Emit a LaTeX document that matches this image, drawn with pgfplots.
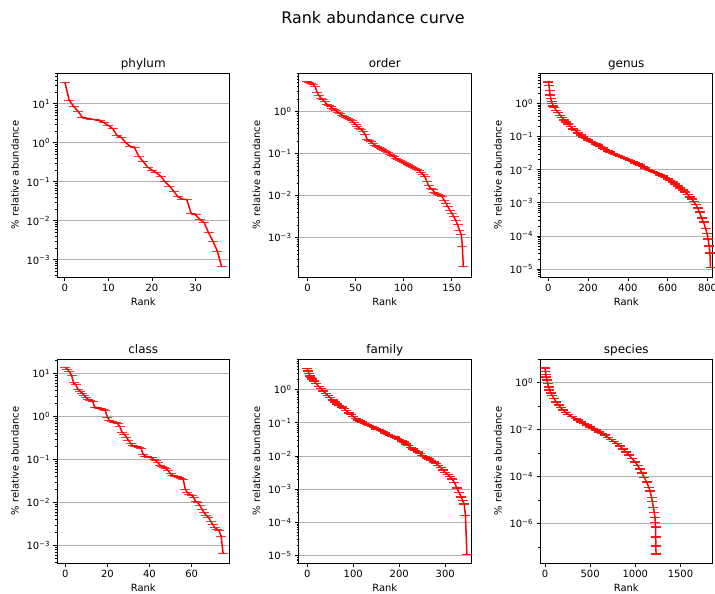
\documentclass[border=0pt]{standalone}
\usepackage{fontspec}
\setmainfont{DejaVu Sans}
\usepackage{pgfplots}
\pgfplotsset{compat=1.18}

\newcommand\tn[1]{10\textsuperscript{#1}}

\pgfplotsset{
  logminor/.style={minor ytick={2e-6,3e-6,4e-6,5e-6,6e-6,7e-6,8e-6,9e-6,
    2e-5,3e-5,4e-5,5e-5,6e-5,7e-5,8e-5,9e-5,
    2e-4,3e-4,4e-4,5e-4,6e-4,7e-4,8e-4,9e-4,
    2e-3,3e-3,4e-3,5e-3,6e-3,7e-3,8e-3,9e-3,
    2e-2,3e-2,4e-2,5e-2,6e-2,7e-2,8e-2,9e-2,
    0.2,0.3,0.4,0.5,0.6,0.7,0.8,0.9,2,3,4,5,6,7,8,9,20,30,40,50,60}},
  rac/.style={
    scale only axis, width=172.5bp, height=204bp, anchor=north west,
    ymajorgrids, major grid style={draw=black!31, line width=0.8bp},
    tick align=outside, tick pos=left,
    major tick length=3.5bp, minor tick length=2bp,
    tick style={black, line width=0.8bp},
    minor tick style={black, line width=0.6bp},
    axis line style={line width=0.8bp},
    tick label style={font=\fontsize{10}{12}\selectfont},
    xlabel={Rank}, ylabel={\% relative abundance},
    every axis x label/.style={at={(axis description cs:0.5,-0.1373)}, anchor=base,
      font=\fontsize{10}{12}\selectfont},
    every axis y label/.style={at={(axis description cs:-0.2435,0.5)}, rotate=90,
      anchor=center, font=\fontsize{10}{12}\selectfont},
    every axis title/.style={at={(axis description cs:0.5,1.0294)}, anchor=base,
      font=\fontsize{12}{14}\selectfont},
  },
  % line with a horizontal cap at every point, like the error-bar caps
  curve/.style={red, line width=1.5bp, mark=-, mark size=5bp,
    mark options={solid, draw=red, color=red, line width=0.9bp, opacity=0.8}},
  dense/.style={curve,
    mark options={solid, draw=red, color=red, line width=1.5bp, opacity=0.9}},
}

\begin{document}
\begin{tikzpicture}
\useasboundingbox (0,0) rectangle (715bp,-594bp);
\node[font=\fontsize{16}{19}\selectfont, anchor=base] at (373bp,-23bp) {Rank abundance curve};

% ---- phylum ----
\begin{axis}[rac, ymode=log, at={(57bp,-73bp)}, title={phylum},
  xmin=-1.8, xmax=37.8, ymin=3.6e-4, ymax=62,
  xtick={0,10,20,30}, xticklabels={0,10,20,30},
  ytick={1e-3,1e-2,1e-1,1,10}, yticklabels={\tn{−3},\tn{−2},\tn{−1},\tn{0},\tn{1}},
  logminor]
\addplot[curve] coordinates {
 (0,36) (1,12.4) (2,8.7) (3,6.5) (4,4.5) (5,4.3) (6,4.1) (7,3.9) (8,3.7)
 (9,3.3) (10,2.8) (11,2.3) (12,1.54) (13,1.37) (14,1.0) (15,0.82) (16,0.74)
 (17,0.45) (18,0.33) (19,0.24) (20,0.20) (21,0.17) (22,0.14) (23,0.10)
 (24,0.078) (25,0.057) (26,0.041) (27,0.036) (28,0.035) (29,0.0155)
 (30,0.0143) (31,0.0108) (32,0.0089) (33,0.0049) (34,0.0030) (35,0.00167)
 (36,0.00066)};
\end{axis}

% ---- order ----
\begin{axis}[rac, ymode=log, at={(298.5bp,-73bp)}, title={order},
  xmin=-9.3, xmax=170, ymin=1.14e-4, ymax=8.3,
  xtick={0,50,100,150}, xticklabels={0,50,100,150},
  ytick={1e-3,1e-2,1e-1,1}, yticklabels={\tn{−3},\tn{−2},\tn{−1},\tn{0}},
  logminor]
\addplot[curve] coordinates {
 (0,5.2) (2,5.0) (4,4.8) (6,4.4) (8,3.9) (10,2.9) (12,2.4) (14,2.1) (16,1.9)
 (18,1.7) (20,1.5) (22,1.4) (24,1.3) (26,1.2) (28,1.12) (30,1.05) (32,0.95)
 (34,0.88) (36,0.82) (38,0.77) (40,0.72) (42,0.68) (44,0.64) (46,0.60)
 (48,0.55) (50,0.50) (52,0.45) (54,0.40) (56,0.37) (58,0.33) (60,0.29)
 (62,0.22) (64,0.20) (66,0.19) (68,0.175) (70,0.16) (72,0.15) (74,0.142)
 (76,0.133) (78,0.125) (80,0.118) (82,0.11) (84,0.104) (86,0.097) (88,0.09)
 (90,0.083) (92,0.078) (94,0.073) (96,0.068) (98,0.064) (100,0.060)
 (102,0.057) (104,0.054) (106,0.051) (108,0.049) (110,0.047) (112,0.045)
 (114,0.042) (116,0.039) (118,0.035) (120,0.032) (122,0.028) (124,0.022)
 (126,0.017) (128,0.015) (130,0.0137) (132,0.012) (134,0.0112) (136,0.0105)
 (138,0.0099) (140,0.0093) (142,0.0078) (144,0.0065) (146,0.0054)
 (148,0.0045) (150,0.0038) (152,0.0031) (154,0.0026) (156,0.0020)
 (158,0.0015) (160,0.00115) (161,0.0006) (162,0.0002)};
\end{axis}

% ---- genus ----
\begin{axis}[rac, ymode=log, at={(540bp,-73bp)}, title={genus},
  xmin=-42, xmax=825, ymin=5.75e-6, ymax=8.3,
  xtick={0,200,400,600,800}, xticklabels={0,200,400,600,800},
  ytick={1e-5,1e-4,1e-3,1e-2,1e-1,1},
  yticklabels={\tn{−5},\tn{−4},\tn{−3},\tn{−2},\tn{−1},\tn{0}},
  logminor]
\addplot[dense] coordinates {
 (0,4.5) (3,3.5) (6,2.5) (9,1.8) (12,1.4) (16,1.15) (20,1.0) (25,0.85)
 (30,0.75) (40,0.62) (50,0.53) (60,0.44) (70,0.37) (80,0.32) (90,0.28)
 (100,0.24) (112,0.2) (125,0.17) (137,0.15) (150,0.13) (162,0.11)
 (175,0.097) (187,0.087) (200,0.079) (212,0.072) (225,0.066) (237,0.06)
 (250,0.055) (262,0.05) (275,0.045) (287,0.041) (300,0.037) (312,0.034)
 (325,0.031) (337,0.029) (350,0.027) (362,0.025) (375,0.023) (387,0.0215)
 (400,0.020) (412,0.0187) (425,0.0174) (437,0.016) (450,0.015)
 (462,0.0138) (475,0.0125) (487,0.0113) (500,0.0102) (512,0.0095)
 (525,0.0088) (537,0.0082) (550,0.0076) (562,0.007) (575,0.0064)
 (587,0.0058) (600,0.0053) (612,0.0047) (625,0.0042) (637,0.0037)
 (650,0.0032) (662,0.0028) (675,0.0024) (687,0.0021) (700,0.0018)
 (710,0.0015) (720,0.0013) (730,0.0011) (740,0.0009) (750,0.0007)
 (760,0.00052) (770,0.00035) (780,0.00026) (790,0.00017) (797,0.00012)
 (803,0.00008) (808,0.00005) (812,0.00003) (815,0.000011)};
\end{axis}

% ---- class ----
\begin{axis}[rac, ymode=log, at={(57bp,-359bp)}, title={class},
  xmin=-3.9, xmax=78, ymin=3.9e-4, ymax=21.6,
  xtick={0,20,40,60}, xticklabels={0,20,40,60},
  ytick={1e-3,1e-2,1e-1,1,10}, yticklabels={\tn{−3},\tn{−2},\tn{−1},\tn{0},\tn{1}},
  logminor]
\addplot[curve] coordinates {
 (0,13.8) (1,12.6) (2,10.9) (3,9.1) (4,6.0) (5,5.5) (6,4.3) (7,3.9) (8,3.5)
 (9,3.1) (10,2.7) (11,2.45) (12,2.4) (13,2.25) (14,1.65) (15,1.6) (16,1.57)
 (17,1.5) (18,1.43) (19,1.38) (20,0.96) (21,0.81) (22,0.77) (23,0.74)
 (24,0.71) (25,0.67) (26,0.57) (27,0.43) (28,0.38) (29,0.33) (30,0.28)
 (31,0.24) (32,0.21) (33,0.20) (34,0.197) (35,0.19) (36,0.18) (37,0.133)
 (38,0.12) (39,0.116) (40,0.113) (41,0.109) (42,0.10) (43,0.093) (44,0.084)
 (45,0.074) (46,0.068) (47,0.064) (48,0.06) (49,0.054) (50,0.046)
 (51,0.043) (52,0.041) (53,0.040) (54,0.038) (55,0.037) (56,0.035)
 (57,0.0204) (58,0.017) (59,0.0155) (60,0.0147) (61,0.013) (62,0.0104)
 (63,0.0098) (64,0.0083) (65,0.0069) (66,0.0057) (67,0.0050) (68,0.0045)
 (69,0.0037) (70,0.0031) (71,0.0026) (72,0.0024) (73,0.0022) (74,0.00165)
 (75,0.00064)};
\end{axis}

% ---- family ----
\begin{axis}[rac, ymode=log, at={(298.5bp,-359bp)}, title={family},
  xmin=-19, xmax=356, ymin=6e-6, ymax=8.3,
  xtick={0,100,200,300}, xticklabels={0,100,200,300},
  ytick={1e-5,1e-4,1e-3,1e-2,1e-1,1},
  yticklabels={\tn{−5},\tn{−4},\tn{−3},\tn{−2},\tn{−1},\tn{0}},
  logminor]
\addplot[dense] coordinates {
 (0,4.3) (2,3.6) (4,3.0) (6,2.6) (8,2.3) (10,2.1) (15,1.8) (20,1.5) (25,1.25)
 (30,1.07) (35,0.9) (40,0.76) (45,0.66) (50,0.57) (55,0.49) (60,0.42)
 (65,0.37) (70,0.33) (75,0.30) (80,0.27) (85,0.23) (90,0.20) (95,0.175)
 (100,0.155) (105,0.135) (110,0.12) (115,0.112) (120,0.105) (125,0.096)
 (130,0.089) (135,0.083) (140,0.078) (145,0.072) (150,0.066) (155,0.062)
 (160,0.059) (165,0.054) (170,0.049) (175,0.045) (180,0.042) (185,0.039)
 (190,0.037) (195,0.034) (200,0.031) (205,0.028) (210,0.026) (215,0.023)
 (220,0.021) (225,0.018) (230,0.016) (235,0.0145) (240,0.013) (245,0.0117)
 (250,0.0105) (255,0.0096) (260,0.0087) (265,0.0080) (270,0.0074)
 (275,0.0066) (280,0.0059) (285,0.0052) (290,0.0045) (295,0.0038)
 (300,0.0032) (305,0.0028) (310,0.0024) (315,0.0020) (320,0.0016)
 (325,0.0011) (330,0.0008) (335,0.00058) (338,0.00045) (341,0.00036)
 (344,0.00016) (347,0.000011)};
\end{axis}

% ---- species ----
\begin{axis}[rac, ymode=log, at={(540bp,-359bp)}, title={species},
  xmin=-55, xmax=1855, ymin=2.1e-8, ymax=10,
  xtick={0,500,1000,1500}, xticklabels={0,500,1000,1500},
  ytick={1e-6,1e-4,1e-2,1}, yticklabels={\tn{−6},\tn{−4},\tn{−2},\tn{0}},
  minor ytick={1e-7,1e-5,1e-3,1e-1,10}]
\addplot[dense] coordinates {
 (0,4.1) (5,3.0) (10,2.2) (15,1.7) (20,1.3) (30,0.9) (40,0.65) (50,0.49)
 (65,0.35) (80,0.28) (100,0.21) (125,0.15) (150,0.11) (175,0.085)
 (200,0.067) (230,0.053) (260,0.044) (300,0.035) (340,0.029) (370,0.025)
 (400,0.021) (430,0.018) (460,0.0155) (500,0.013) (530,0.011) (560,0.0095)
 (600,0.0079) (630,0.0068) (660,0.0058) (700,0.0045) (730,0.0038)
 (760,0.0031) (800,0.0025) (830,0.0020) (860,0.0015) (900,0.0011)
 (930,0.00082) (960,0.0006) (1000,0.00041) (1025,0.0003) (1050,0.00021)
 (1075,0.00014) (1100,0.00009) (1125,0.000058) (1150,0.000035)
 (1165,0.000024) (1180,0.000013) (1190,0.0000085) (1200,0.0000049)
 (1210,0.0000030) (1218,0.0000018) (1222,0.0000011) (1224,0.0000007)
 (1226,0.00000027) (1228,0.00000011) (1230,0.00000005)};
\end{axis}
\end{tikzpicture}
\end{document}
